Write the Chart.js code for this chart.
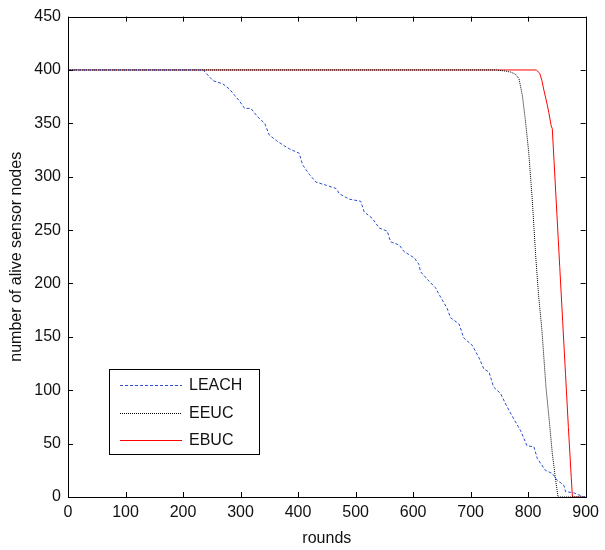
<!DOCTYPE html>
<html>
<head>
<meta charset="UTF-8"/>
<title>alive sensor nodes vs rounds</title>
<script src="https://cdn.jsdelivr.net/npm/chart.js@4.4.3/dist/chart.umd.min.js"></script>
<style>
  *{margin:0;padding:0}
  body{background:#fff;width:605px;height:550px;overflow:hidden}
  #wrap{position:relative;width:605px;height:550px}
</style>
</head>
<body>
<div id="wrap"><canvas id="c" width="605" height="550"></canvas></div>
<script>
// ─── Data ─────────────────────────────────────────────────────────────────────
const seriesNames = ['LEACH', 'EEUC', 'EBUC'];

const leachRounds = [0, 235, 252, 269, 281, 290, 298, 307, 318, 330, 342, 350, 362, 373, 385, 402, 408, 420, 431, 449, 466, 472, 489, 509, 515, 529, 541, 555, 561, 576, 584, 602, 610, 613, 628, 639, 648, 659, 665, 680, 688, 703, 714, 723, 732, 740, 752, 761, 772, 787, 798, 810, 816, 830, 842, 850, 862, 865, 879, 888, 897, 900];
const leachAlive  = [400, 400, 390, 387, 382, 376, 371, 364, 364, 356, 350, 339, 334, 330, 326, 322, 311, 302, 295, 292, 289, 284, 279, 277, 267, 261, 252, 249, 239, 236, 230, 224, 218, 211, 202, 196, 187, 177, 168, 162, 149, 142, 131, 120, 117, 103, 97, 87, 76, 62, 48, 47, 36, 25, 22, 16, 11, 5, 4, 2, 0, 0];

const eeucRounds = [0, 745, 760, 770, 778, 784, 790, 795, 801, 807, 813, 818, 824, 831, 837, 842, 848, 852, 900];
const eeucAlive  = [400, 400, 399, 398, 396, 392, 376, 354, 323, 280, 227, 190, 156, 103, 70, 41, 15, 0, 0];

const ebucRounds = [0, 814, 820, 824, 827, 833, 836, 840, 842, 845, 850, 855, 860, 865, 870, 875, 877, 900];
const ebucAlive  = [400, 400, 397, 390, 382, 368, 360, 348, 345, 315, 265, 215, 165, 115, 65, 18, 0, 0];

const xTicks = [0, 100, 200, 300, 400, 500, 600, 700, 800, 900];
const yTicks = [0, 50, 100, 150, 200, 250, 300, 350, 400, 450];

const FONT = 'Liberation Sans, Arial, sans-serif';

function pts(xs, ys) { return xs.map((x, i) => ({ x, y: ys[i] })); }

// ─── Box + inward ticks (MATLAB style) ────────────────────────────────────────
const boxPlugin = {
  id: 'box',
  afterDatasetsDraw(chart) {
    const { ctx, chartArea: a, scales: { x, y } } = chart;
    const t = 5;
    ctx.save();
    ctx.strokeStyle = '#000';
    ctx.lineWidth = 1;
    ctx.beginPath();
    xTicks.forEach(v => {
      const px = Math.round(x.getPixelForValue(v)) + 0.5;
      ctx.moveTo(px, a.bottom); ctx.lineTo(px, a.bottom - t);
      ctx.moveTo(px, a.top);    ctx.lineTo(px, a.top + t);
    });
    yTicks.forEach(v => {
      const py = Math.round(y.getPixelForValue(v)) + 0.5;
      ctx.moveTo(a.left, py);  ctx.lineTo(a.left + t, py);
      ctx.moveTo(a.right, py); ctx.lineTo(a.right - t, py);
    });
    ctx.stroke();
    ctx.strokeRect(Math.round(a.left) + 0.5, Math.round(a.top) + 0.5,
                   Math.round(a.right - a.left), Math.round(a.bottom - a.top));
    ctx.restore();
  }
};

// ─── Legend inside the axes ───────────────────────────────────────────────────
const legendPlugin = {
  id: 'innerLegend',
  afterDraw(chart) {
    const { ctx } = chart;
    const bx = 109, by = 369, bw = 150, bh = 85;
    ctx.save();
    ctx.fillStyle = '#fff';
    ctx.fillRect(bx, by, bw, bh);
    ctx.strokeStyle = '#000';
    ctx.lineWidth = 1;
    ctx.strokeRect(bx + 0.5, by + 0.5, bw, bh);
    ctx.font = '16px ' + FONT;
    ctx.textBaseline = 'middle';
    chart.data.datasets.forEach((ds, i) => {
      const ly = by + 16 + i * 27.5;
      ctx.beginPath();
      ctx.setLineDash(ds.borderDash || []);
      ctx.strokeStyle = ds.borderColor;
      ctx.moveTo(bx + 11, Math.round(ly) + 0.5);
      ctx.lineTo(bx + 73, Math.round(ly) + 0.5);
      ctx.stroke();
      ctx.setLineDash([]);
      ctx.fillStyle = '#111';
      ctx.fillText(ds.label, bx + 80, ly + 1);
    });
    ctx.restore();
  }
};

function lineDataset(label, data, color, dash) {
  return { label, data, borderColor: color, borderDash: dash, borderWidth: 1,
           pointRadius: 0, fill: false, tension: 0 };
}

new Chart(document.getElementById('c'), {
  type: 'line',
  data: {
    datasets: [
      lineDataset(seriesNames[0], pts(leachRounds, leachAlive), '#2b4fd0', [3, 2]),
      lineDataset(seriesNames[1], pts(eeucRounds, eeucAlive), '#000000', [1, 1]),
      lineDataset(seriesNames[2], pts(ebucRounds, ebucAlive), '#ff0000', []),
    ]
  },
  options: {
    responsive: false,
    animation: false,
    layout: { padding: { top: 14, right: 18, left: 0, bottom: 0 } },
    plugins: { legend: { display: false }, tooltip: { enabled: false } },
    scales: {
      x: {
        type: 'linear', min: 0, max: 900,
        afterBuildTicks: s => { s.ticks = xTicks.map(v => ({ value: v })); },
        afterFit: s => { s.height = 53; },
        grid: { display: false, drawTicks: false },
        border: { display: false },
        ticks: { color: '#111', font: { family: FONT, size: 16 }, padding: 6, maxRotation: 0 },
        title: { display: true, text: 'rounds', color: '#111', font: { family: FONT, size: 16 }, padding: { top: 0, bottom: 2 } }
      },
      y: {
        type: 'linear', min: 0, max: 450,
        afterBuildTicks: s => { s.ticks = yTicks.map(v => ({ value: v })); },
        afterFit: s => { s.width = 68; },
        grid: { display: false, drawTicks: false },
        border: { display: false },
        ticks: { color: '#111', font: { family: FONT, size: 16 }, padding: 7 },
        title: { display: true, text: 'number of alive sensor nodes', color: '#111', font: { family: FONT, size: 16 }, padding: { top: 7, bottom: 0 } }
      }
    }
  },
  plugins: [boxPlugin, legendPlugin]
});
</script>
</body>
</html>
